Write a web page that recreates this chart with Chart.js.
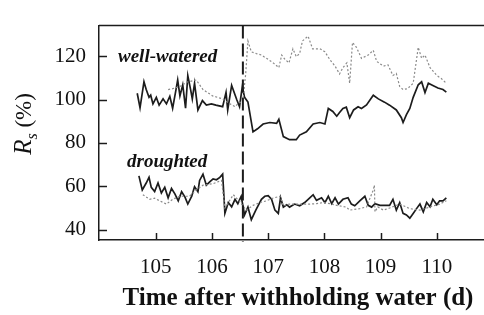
<!DOCTYPE html>
<html>
<head>
<meta charset="utf-8">
<script src="https://cdn.jsdelivr.net/npm/chart.js@4/dist/chart.umd.min.js"></script>
<style>
html,body{margin:0;padding:0;background:#ffffff;}
#wrap{width:484px;height:315px;position:relative;}
</style>
</head>
<body>
<div id="wrap"><canvas id="c" width="484" height="315"></canvas></div>
<script>
// ---- data ----
const xTickLabels = [105, 106, 107, 108, 109, 110];
const yTickLabels = [40, 60, 80, 100, 120];
const eventDay = 106.55; // vertical dashed line

// well-watered, solid
const wwSolidDay = [104.67,104.72,104.79,104.83,104.88,104.91,104.95,105.01,105.06,105.13,105.19,105.25,105.30,105.36,105.39,105.43,105.48,105.53,105.57,105.62,105.65,105.69,105.75,105.83,105.90,105.99,106.07,106.19,106.25,106.28,106.35,106.44,106.49,106.54,106.58,106.64,106.73,106.81,106.91,107.03,107.15,107.19,107.27,107.38,107.50,107.56,107.68,107.80,107.92,108.01,108.07,108.15,108.22,108.27,108.33,108.39,108.45,108.52,108.60,108.66,108.75,108.87,108.96,109.07,109.16,109.28,109.37,109.40,109.46,109.52,109.58,109.67,109.73,109.79,109.85,109.93,110.02,110.11,110.17];
const wwSolidRs  = [102.9,96.2,108.2,104.6,101,102,98,101,97.4,100.3,98,101.5,96,104.6,109,101.7,106.8,96,111,104.6,100.3,107.5,95.2,99.5,97.4,98,97.4,96.7,103.3,95.2,106.5,100,96.7,106,101,98.8,85.1,86.5,88.7,89.4,89,90.9,82.9,81.5,81.5,83.6,85.1,88.7,89.4,88.7,95.9,94.5,92.3,94,95.9,96.5,91.6,95.2,96.7,95.9,97.5,102,100.3,98.8,97.4,95.2,91.6,89.4,93,95.9,101,106.8,108.2,103.2,107.5,106.5,105.3,104.6,103.4];

// well-watered, dotted
const wwDottedDay = [105.22,105.30,105.43,105.55,105.72,105.84,106.01,106.19,106.32,106.41,106.46,106.55,106.60,106.64,106.70,106.79,106.88,106.97,107.09,107.19,107.24,107.30,107.37,107.44,107.50,107.56,107.61,107.71,107.79,107.92,108.01,108.10,108.19,108.27,108.33,108.40,108.45,108.50,108.57,108.66,108.78,108.87,108.93,109.05,109.13,109.22,109.28,109.34,109.40,109.48,109.58,109.67,109.73,109.79,109.88,110.00,110.08,110.17];
const wwDottedRs  = [104.6,105,106,108,109,104.6,101.7,100.3,98,96.7,98,99.5,111.8,127,122,121.2,120.5,119,116.9,114.7,120.5,118.5,116.9,123.4,119.8,121.2,127,129.2,123.4,123.4,122,118.3,115.4,111.8,114.7,116.9,107.5,126.3,124.1,119,120.5,122.7,117.6,115.4,116,111.1,112,106,104.6,105,107.5,124.1,119,120.5,114.7,111.1,109.7,107.5];

// droughted, solid
const drSolidDay = [104.70,104.76,104.83,104.88,104.92,104.98,105.04,105.10,105.16,105.22,105.28,105.34,105.40,105.46,105.52,105.57,105.64,105.69,105.75,105.78,105.84,105.90,105.96,106.02,106.08,106.14,106.19,106.23,106.29,106.35,106.41,106.46,106.52,106.58,106.64,106.70,106.78,106.88,106.94,107.00,107.06,107.12,107.18,107.22,107.27,107.33,107.38,107.47,107.56,107.65,107.74,107.80,107.86,107.95,108.01,108.07,108.13,108.19,108.25,108.33,108.42,108.48,108.54,108.63,108.72,108.78,108.84,108.90,108.99,109.07,109.16,109.22,109.28,109.34,109.40,109.46,109.52,109.58,109.64,109.70,109.76,109.82,109.88,109.93,110.00,110.05,110.11,110.17];
const drSolidRs  = [64.8,58.3,61.5,64.1,59.5,57.6,61.5,56.9,59.5,54.7,59,56.5,53.3,57.5,55,51.8,55.4,59.8,57.5,62.7,65.6,60.5,62,63.4,63,64.1,65.6,47.5,52.5,50.5,54,52,55.4,46.8,50.4,44.6,49,54,55.4,55.7,54,49,47.5,54.7,50.4,51.5,50.4,51.8,51,52.5,54.7,56.1,53.5,54.7,52.5,55.4,52,54.7,51.8,54,54.7,51.8,51,53.3,55.4,51.2,50.4,52,51.2,51.2,51.2,54,49,52.5,47.5,46.8,45.3,47.5,49.7,51.8,48.2,52.5,50.5,54,51.5,53.3,53.3,54.7];

// droughted, dotted
const drDottedDay = [104.77,104.89,104.98,105.07,105.19,105.30,105.43,105.60,105.72,105.84,106.02,106.17,106.23,106.38,106.49,106.61,106.73,106.85,106.97,107.08,107.21,107.27,107.38,107.56,107.74,107.86,107.98,108.10,108.22,108.39,108.45,108.63,108.75,108.87,108.89,108.90,108.95,109.05,109.16,109.34,109.52,109.70,109.88,110.05,110.17];
const drDottedRs  = [56.1,54,54.5,53.3,51.8,54,55.4,55.4,58.3,60.5,61.2,62.7,50,56.1,53,49,51.2,52.5,53.3,54.5,55.4,51,51.8,51.8,51.8,52,52.5,52,51.2,50.4,49,49.7,50.5,58.3,60.5,48.2,50.5,49,50,51.8,49.7,49,50.5,51.8,53.3];

const toPts = (xs, ys) => xs.map((x, i) => ({x: x, y: ys[i]}));

const INK = '#1c1c1c';
const SERIF = "'Liberation Serif', 'Times New Roman', serif";

const decorPlugin = {
  id: 'decor',
  afterDraw(chart) {
    const ctx = chart.ctx;
    const a = chart.chartArea;
    const xs = chart.scales.x, ys = chart.scales.y;
    ctx.save();
    ctx.strokeStyle = INK;
    ctx.lineWidth = 1.5;
    // top border
    ctx.beginPath();
    ctx.moveTo(a.left, a.top);
    ctx.lineTo(a.right, a.top);
    ctx.stroke();
    // inward ticks
    xTickLabels.forEach(v => {
      const p = Math.round(xs.getPixelForValue(v)) + 0.5;
      ctx.beginPath(); ctx.moveTo(p, a.bottom); ctx.lineTo(p, a.bottom - 7); ctx.stroke();
    });
    yTickLabels.forEach(v => {
      const p = Math.round(ys.getPixelForValue(v)) + 0.5;
      ctx.beginPath(); ctx.moveTo(a.left, p); ctx.lineTo(a.left + 8, p); ctx.stroke();
    });
    // dashed event line
    const ex = xs.getPixelForValue(eventDay);
    ctx.setLineDash([13, 5]);
    ctx.lineWidth = 2;
    ctx.beginPath(); ctx.moveTo(ex, a.top); ctx.lineTo(ex, a.bottom + 2); ctx.stroke();
    ctx.setLineDash([]);
    // labels
    ctx.fillStyle = '#111';
    ctx.textBaseline = 'alphabetic';
    ctx.textAlign = 'left';
    ctx.font = "bold italic 19px " + SERIF;
    ctx.fillText('well-watered', 118, 62);
    ctx.fillText('droughted', 127, 167);
    // x axis title
    ctx.textAlign = 'center';
    ctx.font = "bold 25px " + SERIF;
    ctx.fillText('Time after withholding water (d)', 298, 305);
    ctx.textAlign = 'left';
    // y axis title: R_s (%)
    ctx.translate(31, 124);
    ctx.rotate(-Math.PI / 2);
    const fR = "italic 25px " + SERIF, fS = "italic 16px " + SERIF, fP = "23px " + SERIF;
    ctx.font = fR; const wR = ctx.measureText('R').width;
    ctx.font = fS; const wS = ctx.measureText('s').width;
    ctx.font = fP; const wP = ctx.measureText(' (%)').width;
    let x0 = -(wR + wS + wP) / 2;
    ctx.font = fR; ctx.fillText('R', x0, 0); x0 += wR;
    ctx.font = fS; ctx.fillText('s', x0, 6); x0 += wS;
    ctx.font = fP; ctx.fillText(' (%)', x0, 0);
    ctx.restore();
  }
};

new Chart(document.getElementById('c'), {
  type: 'line',
  data: {
    datasets: [
      {data: toPts(wwDottedDay, wwDottedRs), borderColor: '#8a8a8a', borderWidth: 1.2, borderDash: [2, 2]},
      {data: toPts(drDottedDay, drDottedRs), borderColor: '#8a8a8a', borderWidth: 1.2, borderDash: [2, 2]},
      {data: toPts(wwSolidDay, wwSolidRs), borderColor: INK, borderWidth: 1.7},
      {data: toPts(drSolidDay, drSolidRs), borderColor: INK, borderWidth: 1.7}
    ]
  },
  options: {
    responsive: false,
    animation: false,
    devicePixelRatio: 1,
    layout: {padding: {top: 12, right: 0, left: 0, bottom: 0}},
    elements: {point: {radius: 0}, line: {tension: 0, fill: false}},
    plugins: {legend: {display: false}, tooltip: {enabled: false}},
    scales: {
      x: {
        type: 'linear', min: 103.99, max: 110.84,
        afterBuildTicks: s => { s.ticks = xTickLabels.map(v => ({value: v})); },
        afterFit: s => { s.height = 75; },
        grid: {display: false, drawTicks: false},
        border: {display: true, color: INK, width: 1.5},
        ticks: {color: '#111', font: {family: SERIF, size: 21}, padding: 15, maxRotation: 0, callback: v => String(v)}
      },
      y: {
        type: 'linear', min: 35.23, max: 134.09,
        afterBuildTicks: s => { s.ticks = yTickLabels.map(v => ({value: v})); },
        afterFit: s => { s.width = 99; },
        grid: {display: false, drawTicks: false},
        border: {display: true, color: INK, width: 1.5},
        ticks: {color: '#111', font: {family: SERIF, size: 21}, padding: 13, callback: v => String(v)}
      }
    }
  },
  plugins: [decorPlugin]
});
</script>
</body>
</html>
